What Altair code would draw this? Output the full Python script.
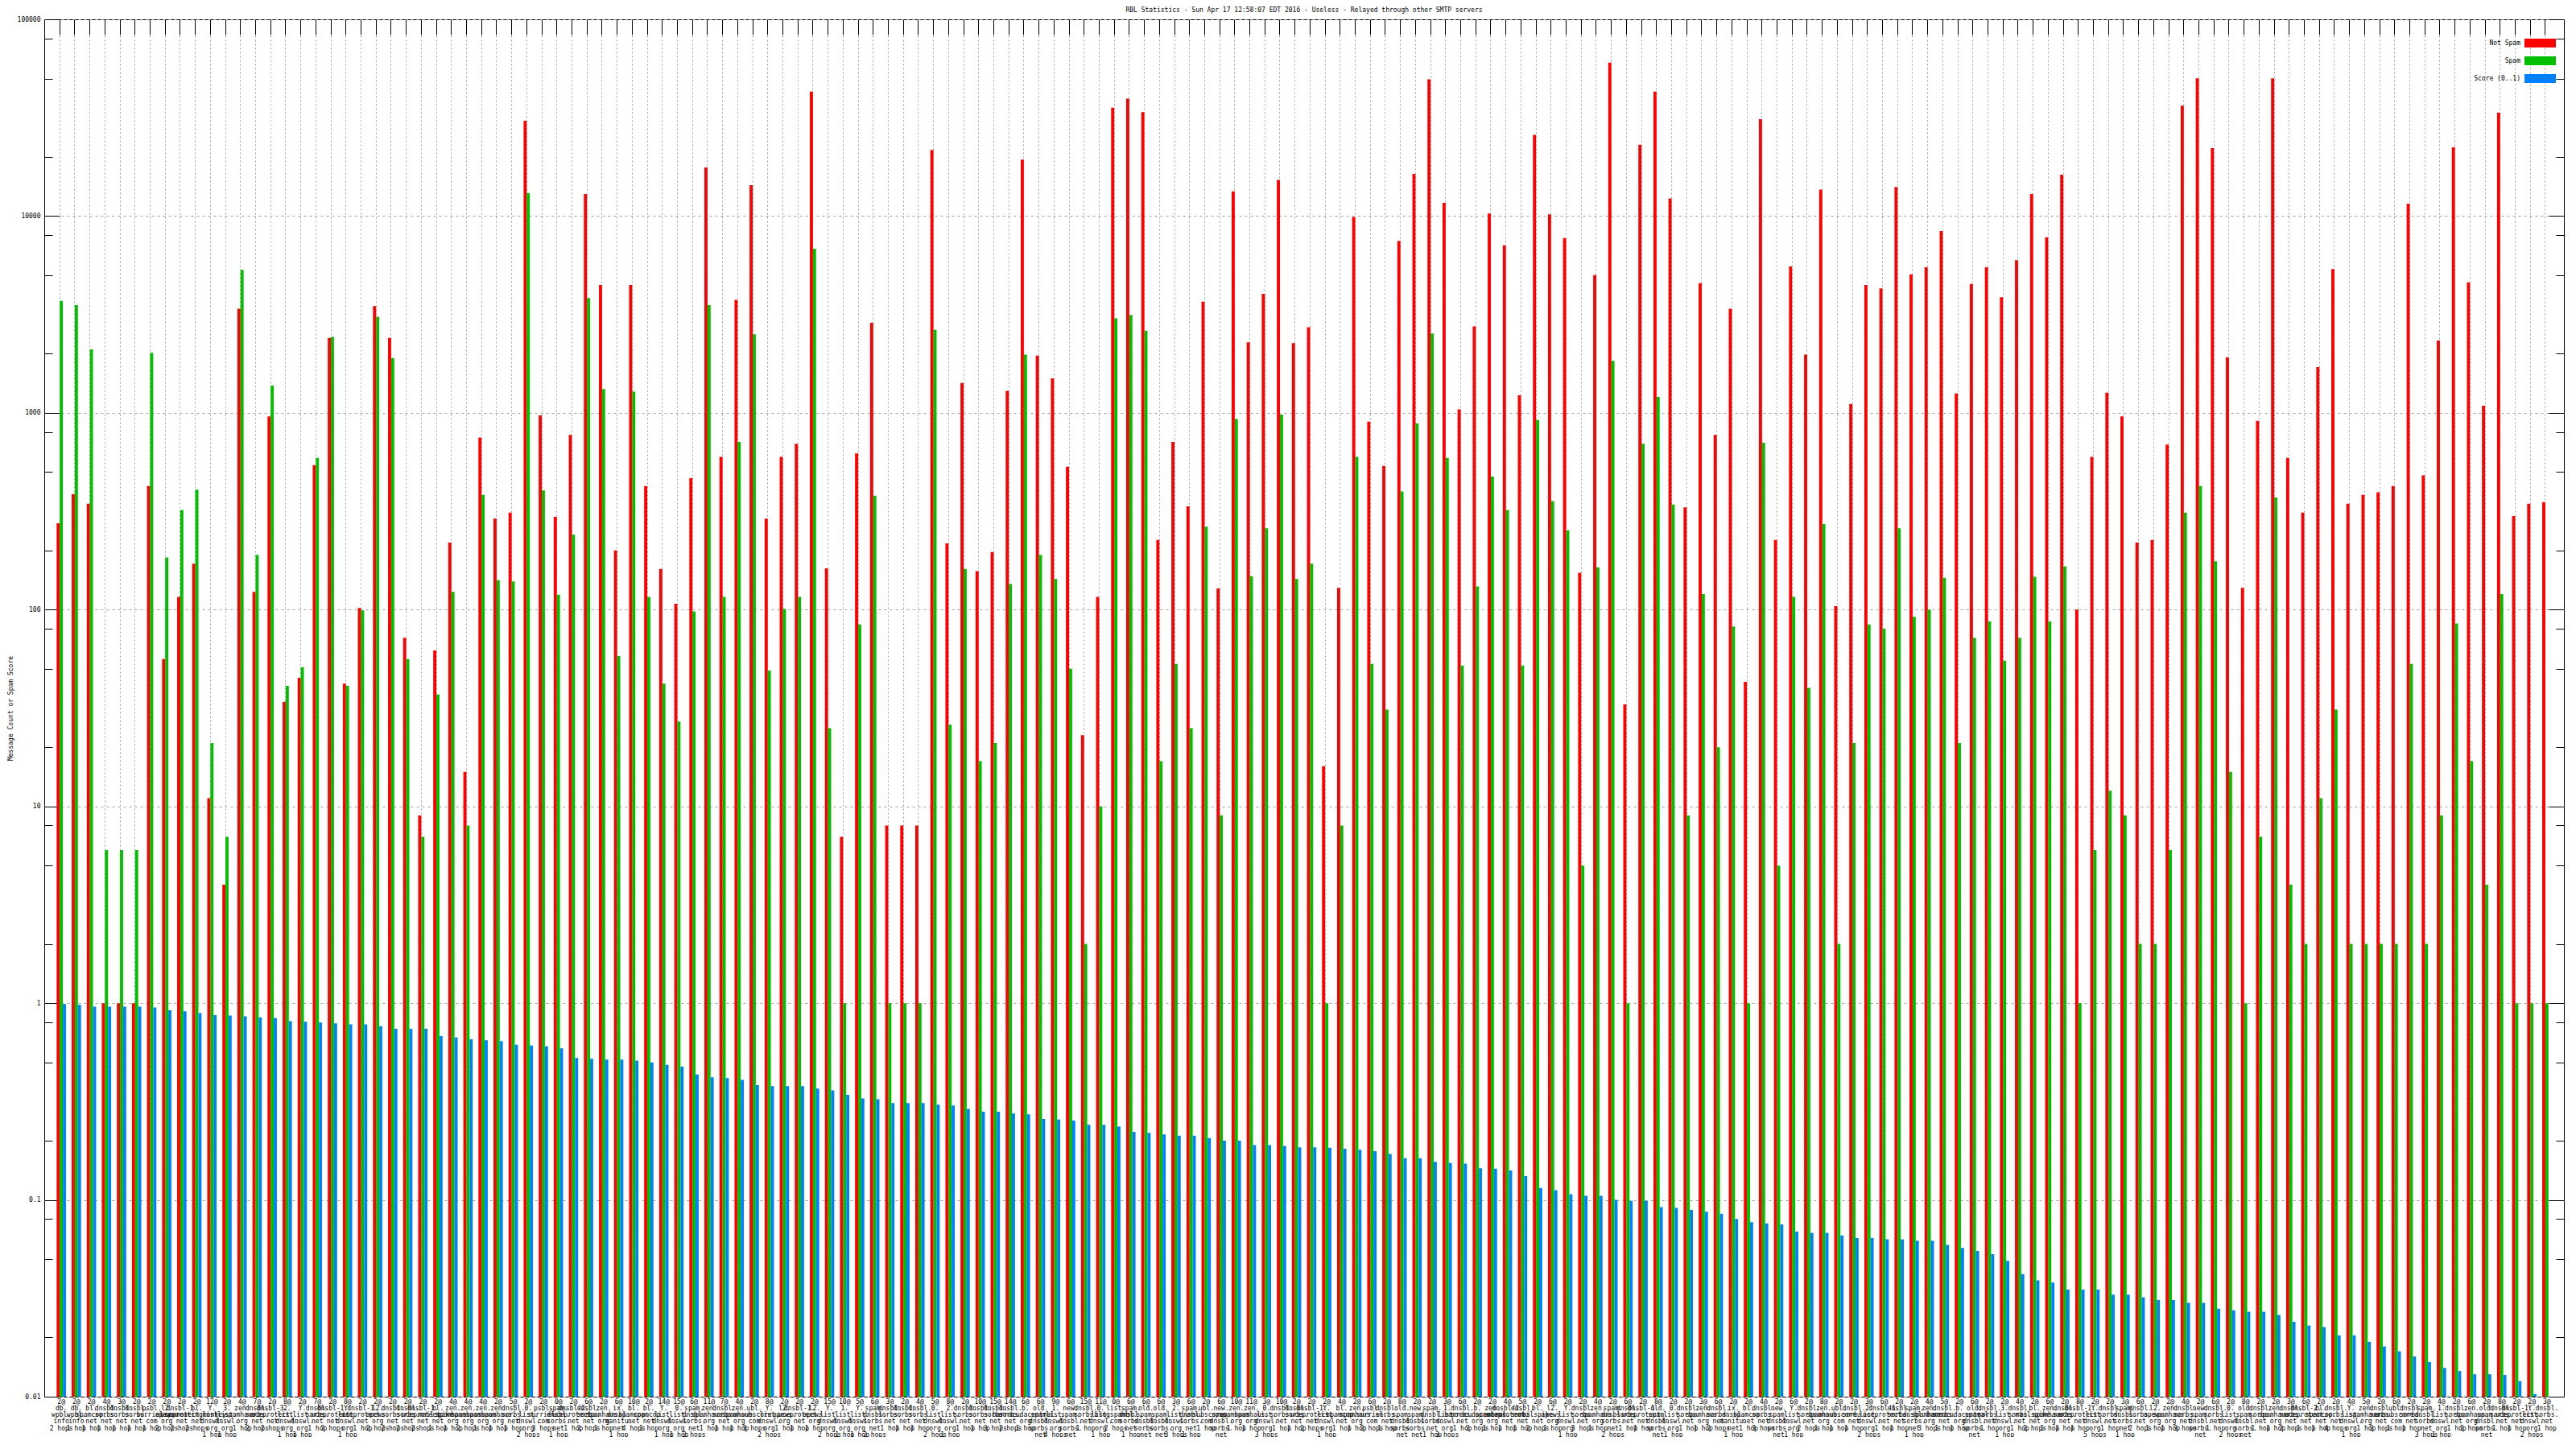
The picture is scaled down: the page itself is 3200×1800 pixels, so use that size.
import altair as alt
import pandas as pd

series_names = ["Not Spam", "Spam", "Score (0..1)"]
series_colors = ["#ff0000", "#00c000", "#0080ff"]

not_spam = [275, 387, 345, 1, 1, 1, 425, 56, 116, 171, 11, 4, 3380, 123, 960, 34, 45, 543, 2405, 42, 102, 3490, 2405, 72, 9, 62, 219,
            15, 749, 290, 311, 30500, 970, 296, 772, 12950, 4470, 200, 4470, 425, 161, 107, 466, 17650, 597, 3750, 14350, 290, 597, 697, 42900, 162, 7, 622, 2866,
            8, 8, 8, 21700, 217, 1420, 157, 196, 1295, 19360, 1956, 1496, 533, 23, 116, 35600, 39500, 33800, 226, 711, 335, 3670, 128, 13360, 2285, 4030, 15270, 2260,
            2723, 16, 129, 9900, 902, 538, 7480, 16400, 49550, 11670, 1042, 2750, 10300, 7110, 1230, 25860, 10200, 7725, 154, 5010, 60300, 33, 23070, 42900, 12300, 331, 4560,
            772, 3380, 43, 31120, 226, 5550, 1977, 13640, 104, 1109, 4470, 4290, 14060, 5060, 5490, 8390, 1255, 4520, 5490, 3866, 5970, 12950, 7800, 16250, 100, 597, 1268, 960,
            219, 226, 690, 36370, 50100, 22150, 1918, 129, 911, 50100, 590, 311, 1710, 5380, 345, 383, 395, 425, 11560, 481, 2333, 22370, 4610, 1086, 33500, 299, 345, 352]

spam = [3710, 3525, 2100, 6, 6, 6, 2018, 184, 321, 407, 21, 7, 5325, 190, 1377, 41, 51, 590, 2430, 41, 99, 3080, 1897, 56, 7, 37, 123,
        8, 383, 141, 139, 13090, 403, 119, 240, 3830, 1321, 58, 1282, 116, 42, 27, 98, 3525, 116, 711, 2506, 49, 101, 116, 6825, 25, 1, 84, 379,
        1, 1, 1, 2640, 26, 161, 17, 21, 135, 1977, 190, 143, 50, 2, 10, 3020, 3145, 2612, 17, 53, 25, 264, 9, 930, 148, 259, 980, 143,
        171, 1, 8, 597, 53, 31, 399, 883, 2533, 590, 52, 131, 475, 321, 52, 920, 356, 253, 5, 164, 1840, 1, 697, 1205, 342, 9, 120,
        20, 82, 1, 704, 5, 116, 40, 272, 2, 21, 84, 80, 259, 92, 100, 145, 21, 72, 87, 55, 72, 147, 87, 166, 1, 6, 12, 9,
        2, 2, 6, 311, 425, 176, 15, 1, 7, 371, 4, 2, 11, 31, 2, 2, 2, 2, 53, 2, 9, 85, 17, 4, 120, 1, 1, 1]

score = [0.99, 0.98, 0.96, 0.96, 0.96, 0.96, 0.95, 0.92, 0.91, 0.89, 0.87, 0.866, 0.857, 0.848, 0.839, 0.81, 0.805, 0.797, 0.79, 0.78, 0.78, 0.764, 0.74, 0.74, 0.74, 0.68, 0.67,
         0.655, 0.648, 0.641, 0.615, 0.609, 0.603, 0.59, 0.527, 0.522, 0.517, 0.517, 0.511, 0.5, 0.486, 0.476, 0.434, 0.42, 0.416, 0.407, 0.383, 0.379, 0.379, 0.379, 0.368, 0.36, 0.342, 0.328, 0.325,
         0.311, 0.311, 0.311, 0.305, 0.302, 0.29, 0.281, 0.281, 0.275, 0.272, 0.258, 0.256, 0.253, 0.241, 0.241, 0.236, 0.222, 0.219, 0.215, 0.212, 0.212, 0.206, 0.2, 0.2, 0.19, 0.19, 0.188, 0.185,
         0.185, 0.184, 0.182, 0.18, 0.177, 0.171, 0.163, 0.163, 0.156, 0.154, 0.153, 0.145, 0.144, 0.141, 0.132, 0.115, 0.112, 0.107, 0.105, 0.105, 0.1, 0.099, 0.099, 0.092, 0.091, 0.089, 0.087,
         0.085, 0.08, 0.077, 0.076, 0.075, 0.069, 0.068, 0.068, 0.066, 0.064, 0.064, 0.063, 0.063, 0.062, 0.062, 0.059, 0.057, 0.055, 0.053, 0.049, 0.042, 0.039, 0.038, 0.035, 0.035, 0.035, 0.033, 0.033,
         0.032, 0.031, 0.031, 0.030, 0.030, 0.028, 0.0275, 0.027, 0.027, 0.026, 0.024, 0.023, 0.0226, 0.0205, 0.0205, 0.019, 0.018, 0.017, 0.016, 0.015, 0.014, 0.0135, 0.013, 0.013, 0.0129, 0.012, 0.0103, 0.0095]

# x tick labels: "weight@", the RBL zone (wrapped at its dots) and the hop count
weights = ["2", "2", "2", "4", "3", "2", "2", "2", "2", "2", "12", "2", "4", "7", "2", "8", "2", "7", "2", "8",
           "2", "2", "2", "2", "2", "2", "4", "4", "4", "2", "5", "2", "2", "0", "2", "6", "2", "6", "10", "2",
           "14", "15", "6", "11", "7", "4", "2", "8", "2", "2", "2", "15", "10", "5", "6", "3", "2", "4", "5", "8",
           "2", "10", "15", "14", "6", "6", "9", "6", "15", "11", "0", "6", "6", "6", "3", "6", "2", "6", "10", "11",
           "3", "10", "2", "2", "2", "4", "2", "6", "2", "8", "2", "2", "3", "6", "2", "2", "4", "5", "2", "6",
           "2", "2", "4", "2", "6", "2", "8", "2", "2", "3", "6", "2", "2", "4", "2", "6", "2", "8", "2", "2",
           "3", "6", "2", "2", "4", "5", "2", "6", "2", "2", "4", "2", "6", "2", "8", "2", "2", "3", "6", "2",
           "2", "4", "2", "6", "2", "8", "2", "2", "3", "6", "2", "2", "4", "5", "2", "6", "2", "2", "4", "2",
           "6", "2", "8", "2", "2", "3"]
zones = {
    "wp": "db.|wpbl.|info", "sc": "bl.|spamcop.|net", "so": "dnsbl.|sorbs.|net", "ps": "psbl.|surriel.|com",
    "ap": "l2.|apews.|org", "u1": "dnsbl-1.|uceprotect.|net", "u2": "dnsbl-2.|uceprotect.|net",
    "u3": "dnsbl-3.|uceprotect.|net", "em": "bl.|spameatingmonkey.|net", "wY": "Y.|list.|dnswl.|org",
    "w0": "0.|list.|dnswl.|org", "w1": "1.|list.|dnswl.|org", "w2": "2.|list.|dnswl.|org", "w3": "3.|list.|dnswl.|org",
    "zn": "zen.|spamhaus.|org", "ms": "bl.|mailspike.|net", "ub": "ubl.|unsubscore.|com",
    "sp": "spam.|dnsbl.|sorbs.|net", "ns": "new.|spam.|dnsbl.|sorbs.|net", "os": "old.|spam.|dnsbl.|sorbs.|net",
    "bc": "b.|barracudacentral.|org", "ix": "ix.|dnsbl.|manitu.|net", "ls": "list.|blogspambl.|com",
}
zone_codes = ["wp", "wp", "sc", "so", "so", "so", "ps", "ap", "u1", "em", "wY", "w3", "zn", "so", "u3", "w2", "wY", "so", "u1", "wY",
              "u1", "ap", "so", "so", "u1", "ms", "zn", "zn", "zn", "zn", "so", "w0", "ps", "sp", "u2", "so", "zn", "ix", "sc",
              "sc", "wY", "w0", "sp", "zn", "so", "zn", "ub", "wY", "ap", "u1", "ap", "wY", "w1", "wY", "sp", "so", "so", "so", "w0",
              "w2", "so", "so", "so", "so", "bc", "os", "w1", "ns", "so", "w0", "ls", "sp", "os", "os", "w2", "sp", "ub", "ns", "zn",
              "zn", "w0", "so",
              "so", "u1", "wY", "sc", "zn", "ps", "so", "os", "ns", "sp", "w1", "so", "bc", "zn", "u2", "so", "ms", "ap", "wY", "so",
              "zn", "sp", "so", "u1", "os", "w0", "so", "zn", "so", "ix", "sc", "so", "ns", "wY", "so", "zn", "ub", "so", "w2", "u1",
              "so", "sp", "zn", "so", "bc", "os", "so", "w3", "so", "ms", "zn", "so", "u1", "wY", "so", "sp", "so", "ap", "zn", "so",
              "ns", "so", "w0", "os", "so", "zn", "so", "u2", "sc", "so", "wY", "zn", "so", "ub", "so", "sp", "w1", "so", "zn", "os",
              "so", "u1", "wY", "so"]
hop_counts = [2, 1, 1, 1, 1, 1, 1, 2, 2, 2, 1, 1, 1, 2, 2, 1, 1, 1, 2, 1, 1, 2, 2, 2, 2, 1, 1, 2, 1, 1,
              1, 2, 3, 1, 1, 2, 1, 1, 4, 1, 1, 1, 2, 1, 1, 1, 3, 2, 1, 1, 1, 2, 1, 1, 2, 1, 1, 1, 2, 1,
              1, 1, 3, 2, 1, 1, 4, 1, 1, 1, 2, 1, 1, 1, 3, 1, 1, 2, 1, 1, 3, 1, 1, 2, 1, 1, 1, 2, 1, 2,
              1, 1, 3, 1, 2, 1, 1, 1, 2, 1, 1, 3, 1, 2, 1, 1, 2, 1, 1, 1, 2, 1, 1, 3, 1, 1, 2, 1, 1, 1,
              2, 1, 1, 1, 3, 1, 1, 2, 1, 1, 1, 2, 1, 1, 1, 5, 1, 1, 2, 1, 1, 3, 1, 1, 2, 1, 1, 1, 2, 1,
              1, 4, 1, 1, 2, 1, 1, 3, 1, 1, 2, 1, 1, 1, 2, 1]

N = len(not_spam)
labels = [f"{weights[i]}@|{zones[zone_codes[i]]}|{hop_counts[i]} hop{'s' if hop_counts[i] > 1 else ''}"
          for i in range(N)]
keys = [f"{i:03d}~{labels[i]}" for i in range(N)]
rows = []
for i in range(N):
    for s, vals in zip(series_names, [not_spam, spam, score]):
        rows.append({"key": keys[i], "series": s, "value": vals[i]})
df = pd.DataFrame(rows)

W, H = 3130, 1711
FONT = "DejaVu Sans Mono"
decades = [0.01, 0.1, 1, 10, 100, 1000, 10000, 100000]
minor = [m * d for d in decades[:-1] for m in (2, 5, 8)]
all_ticks = sorted(decades + minor)
is_major = "indexof([0.01,0.1,1,10,100,1000,10000,100000], datum.value) >= 0"
tick_len = {"condition": {"test": is_major, "value": 19}, "value": 10}

yscale = alt.Scale(type="log", domain=[0.01, 100000], nice=False)
xscale = alt.Scale(paddingInner=0.38, paddingOuter=0.82)

bars = alt.Chart(df).mark_bar(clip=True).encode(
    x=alt.X("key:N", sort=keys, scale=xscale,
            axis=alt.Axis(orient="bottom", title=None, labelExpr="split(slice(datum.label, 4), '|')",
                          labelAngle=0, labelFont=FONT, labelFontSize=8, labelLineHeight=8.3,
                          labelPadding=2, labelOverlap=False, labelFlush=False, labelLimit=300,
                          labelBaseline="top", ticks=False, tickSize=0, domain=False,
                          grid=True, gridDash=[2, 3], gridColor="#a0a0a0", gridWidth=1,
                          bandPosition=1 / 3)),
    xOffset=alt.XOffset("series:N", sort=series_names),
    y=alt.Y("value:Q", scale=yscale,
            axis=alt.Axis(orient="left", values=decades, format="~g", title="Message Count or Spam Score",
                          titleFont=FONT, titleFontSize=8, titleFontWeight="normal", titlePadding=4,
                          labelFont=FONT, labelFontSize=8, labelPadding=5, ticks=False, tickSize=0,
                          domain=False, grid=True, gridDash=[3, 4], gridColor="#a0a0a0")),
    y2=alt.datum(0.01),
    color=alt.Color("series:N", scale=alt.Scale(domain=series_names, range=series_colors),
                    legend=alt.Legend(title=None, orient="none", legendX=3095, legendY=24,
                                      symbolType="M-3.545,-1H3.545V1H-3.545Z", symbolSize=121,
                                      symbolStrokeWidth=0, symbolOpacity=1, symbolOffset=0,
                                      labelFont=FONT, labelFontSize=8, labelAlign="right",
                                      labelOffset={"expr": "-30"}, rowPadding=11, padding=0)),
)

common = dict(labels=False, domain=False, grid=False, title=None, tickColor="black", tickWidth=1)

ticks_a = alt.Chart(df).mark_bar(opacity=0).encode(
    x=alt.X("key:N", sort=keys,
            axis=alt.Axis(orient="bottom", offset=-H, tickSize=19, bandPosition=1 / 3, **common)),
    y=alt.Y("value:Q", axis=alt.Axis(orient="right", offset=-W, values=all_ticks, tickSize=tick_len, **common)),
)
ticks_b = alt.Chart(df).mark_bar(opacity=0).encode(
    x=alt.X("key:N", sort=keys, axis=None),
    y=alt.Y("value:Q", axis=alt.Axis(orient="left", offset=-W, values=all_ticks, tickSize=tick_len, **common)),
)

chart = alt.layer(bars, ticks_a, ticks_b).resolve_axis(x="independent", y="independent").properties(
    width=W, height=H,
    autosize=alt.AutoSizeParams(type="none"),
    padding={"left": 47, "top": 16, "right": 7, "bottom": 50},
    title=alt.Title("RBL Statistics - Sun Apr 17 12:58:07 EDT 2016 - Useless - Relayed through other SMTP servers",
                    font=FONT, fontSize=8, fontWeight="normal", anchor="middle", offset=3),
).configure_view(stroke="black", strokeWidth=1)

chart.save("out.html", embed_options={"renderer": "svg", "actions": False})
